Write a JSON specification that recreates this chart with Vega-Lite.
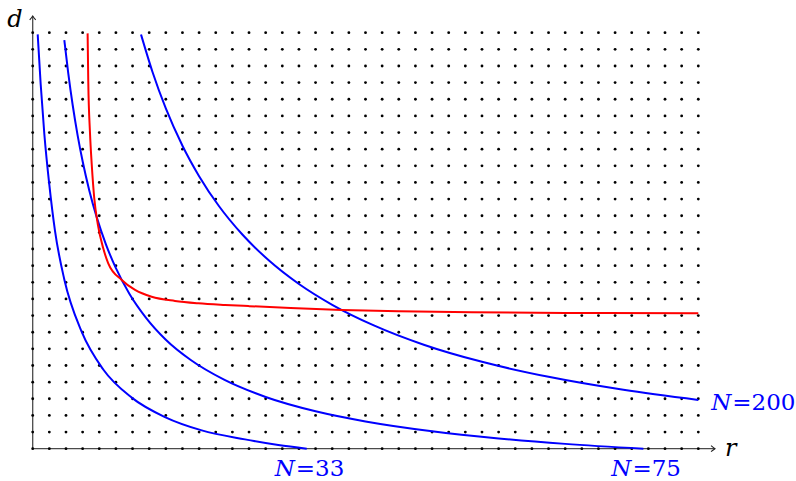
{
"$schema": "https://vega.github.io/schema/vega-lite/v6.json",
"width": 682.24,
"height": 432.64,
"autosize": {"type": "none"},
"padding": {"left": 32.7, "top": 16.06, "right": 81.06, "bottom": 32.3},
"background": "white",
"config": {"view": {"stroke": null}, "text": {"font": "DejaVu Serif"}},
"datasets": {
"dots": [
{"x":0,"y":0},{"x":1,"y":0},{"x":2,"y":0},{"x":3,"y":0},{"x":4,"y":0},{"x":5,"y":0},{"x":6,"y":0},{"x":7,"y":0},{"x":8,"y":0},{"x":9,"y":0},{"x":10,"y":0},{"x":11,"y":0},{"x":12,"y":0},{"x":13,"y":0},{"x":14,"y":0},{"x":15,"y":0},{"x":16,"y":0},{"x":17,"y":0},{"x":18,"y":0},{"x":19,"y":0},{"x":20,"y":0},{"x":21,"y":0},{"x":22,"y":0},{"x":23,"y":0},{"x":24,"y":0},{"x":25,"y":0},{"x":26,"y":0},{"x":27,"y":0},{"x":28,"y":0},{"x":29,"y":0},{"x":30,"y":0},{"x":31,"y":0},{"x":32,"y":0},{"x":33,"y":0},{"x":34,"y":0},{"x":35,"y":0},{"x":36,"y":0},{"x":37,"y":0},{"x":38,"y":0},{"x":39,"y":0},{"x":40,"y":0},
{"x":0,"y":1},{"x":1,"y":1},{"x":2,"y":1},{"x":3,"y":1},{"x":4,"y":1},{"x":5,"y":1},{"x":6,"y":1},{"x":7,"y":1},{"x":8,"y":1},{"x":9,"y":1},{"x":10,"y":1},{"x":11,"y":1},{"x":12,"y":1},{"x":13,"y":1},{"x":14,"y":1},{"x":15,"y":1},{"x":16,"y":1},{"x":17,"y":1},{"x":18,"y":1},{"x":19,"y":1},{"x":20,"y":1},{"x":21,"y":1},{"x":22,"y":1},{"x":23,"y":1},{"x":24,"y":1},{"x":25,"y":1},{"x":26,"y":1},{"x":27,"y":1},{"x":28,"y":1},{"x":29,"y":1},{"x":30,"y":1},{"x":31,"y":1},{"x":32,"y":1},{"x":33,"y":1},{"x":34,"y":1},{"x":35,"y":1},{"x":36,"y":1},{"x":37,"y":1},{"x":38,"y":1},{"x":39,"y":1},{"x":40,"y":1},
{"x":0,"y":2},{"x":1,"y":2},{"x":2,"y":2},{"x":3,"y":2},{"x":4,"y":2},{"x":5,"y":2},{"x":6,"y":2},{"x":7,"y":2},{"x":8,"y":2},{"x":9,"y":2},{"x":10,"y":2},{"x":11,"y":2},{"x":12,"y":2},{"x":13,"y":2},{"x":14,"y":2},{"x":15,"y":2},{"x":16,"y":2},{"x":17,"y":2},{"x":18,"y":2},{"x":19,"y":2},{"x":20,"y":2},{"x":21,"y":2},{"x":22,"y":2},{"x":23,"y":2},{"x":24,"y":2},{"x":25,"y":2},{"x":26,"y":2},{"x":27,"y":2},{"x":28,"y":2},{"x":29,"y":2},{"x":30,"y":2},{"x":31,"y":2},{"x":32,"y":2},{"x":33,"y":2},{"x":34,"y":2},{"x":35,"y":2},{"x":36,"y":2},{"x":37,"y":2},{"x":38,"y":2},{"x":39,"y":2},{"x":40,"y":2},
{"x":0,"y":3},{"x":1,"y":3},{"x":2,"y":3},{"x":3,"y":3},{"x":4,"y":3},{"x":5,"y":3},{"x":6,"y":3},{"x":7,"y":3},{"x":8,"y":3},{"x":9,"y":3},{"x":10,"y":3},{"x":11,"y":3},{"x":12,"y":3},{"x":13,"y":3},{"x":14,"y":3},{"x":15,"y":3},{"x":16,"y":3},{"x":17,"y":3},{"x":18,"y":3},{"x":19,"y":3},{"x":20,"y":3},{"x":21,"y":3},{"x":22,"y":3},{"x":23,"y":3},{"x":24,"y":3},{"x":25,"y":3},{"x":26,"y":3},{"x":27,"y":3},{"x":28,"y":3},{"x":29,"y":3},{"x":30,"y":3},{"x":31,"y":3},{"x":32,"y":3},{"x":33,"y":3},{"x":34,"y":3},{"x":35,"y":3},{"x":36,"y":3},{"x":37,"y":3},{"x":38,"y":3},{"x":39,"y":3},{"x":40,"y":3},
{"x":0,"y":4},{"x":1,"y":4},{"x":2,"y":4},{"x":3,"y":4},{"x":4,"y":4},{"x":5,"y":4},{"x":6,"y":4},{"x":7,"y":4},{"x":8,"y":4},{"x":9,"y":4},{"x":10,"y":4},{"x":11,"y":4},{"x":12,"y":4},{"x":13,"y":4},{"x":14,"y":4},{"x":15,"y":4},{"x":16,"y":4},{"x":17,"y":4},{"x":18,"y":4},{"x":19,"y":4},{"x":20,"y":4},{"x":21,"y":4},{"x":22,"y":4},{"x":23,"y":4},{"x":24,"y":4},{"x":25,"y":4},{"x":26,"y":4},{"x":27,"y":4},{"x":28,"y":4},{"x":29,"y":4},{"x":30,"y":4},{"x":31,"y":4},{"x":32,"y":4},{"x":33,"y":4},{"x":34,"y":4},{"x":35,"y":4},{"x":36,"y":4},{"x":37,"y":4},{"x":38,"y":4},{"x":39,"y":4},{"x":40,"y":4},
{"x":0,"y":5},{"x":1,"y":5},{"x":2,"y":5},{"x":3,"y":5},{"x":4,"y":5},{"x":5,"y":5},{"x":6,"y":5},{"x":7,"y":5},{"x":8,"y":5},{"x":9,"y":5},{"x":10,"y":5},{"x":11,"y":5},{"x":12,"y":5},{"x":13,"y":5},{"x":14,"y":5},{"x":15,"y":5},{"x":16,"y":5},{"x":17,"y":5},{"x":18,"y":5},{"x":19,"y":5},{"x":20,"y":5},{"x":21,"y":5},{"x":22,"y":5},{"x":23,"y":5},{"x":24,"y":5},{"x":25,"y":5},{"x":26,"y":5},{"x":27,"y":5},{"x":28,"y":5},{"x":29,"y":5},{"x":30,"y":5},{"x":31,"y":5},{"x":32,"y":5},{"x":33,"y":5},{"x":34,"y":5},{"x":35,"y":5},{"x":36,"y":5},{"x":37,"y":5},{"x":38,"y":5},{"x":39,"y":5},{"x":40,"y":5},
{"x":0,"y":6},{"x":1,"y":6},{"x":2,"y":6},{"x":3,"y":6},{"x":4,"y":6},{"x":5,"y":6},{"x":6,"y":6},{"x":7,"y":6},{"x":8,"y":6},{"x":9,"y":6},{"x":10,"y":6},{"x":11,"y":6},{"x":12,"y":6},{"x":13,"y":6},{"x":14,"y":6},{"x":15,"y":6},{"x":16,"y":6},{"x":17,"y":6},{"x":18,"y":6},{"x":19,"y":6},{"x":20,"y":6},{"x":21,"y":6},{"x":22,"y":6},{"x":23,"y":6},{"x":24,"y":6},{"x":25,"y":6},{"x":26,"y":6},{"x":27,"y":6},{"x":28,"y":6},{"x":29,"y":6},{"x":30,"y":6},{"x":31,"y":6},{"x":32,"y":6},{"x":33,"y":6},{"x":34,"y":6},{"x":35,"y":6},{"x":36,"y":6},{"x":37,"y":6},{"x":38,"y":6},{"x":39,"y":6},{"x":40,"y":6},
{"x":0,"y":7},{"x":1,"y":7},{"x":2,"y":7},{"x":3,"y":7},{"x":4,"y":7},{"x":5,"y":7},{"x":6,"y":7},{"x":7,"y":7},{"x":8,"y":7},{"x":9,"y":7},{"x":10,"y":7},{"x":11,"y":7},{"x":12,"y":7},{"x":13,"y":7},{"x":14,"y":7},{"x":15,"y":7},{"x":16,"y":7},{"x":17,"y":7},{"x":18,"y":7},{"x":19,"y":7},{"x":20,"y":7},{"x":21,"y":7},{"x":22,"y":7},{"x":23,"y":7},{"x":24,"y":7},{"x":25,"y":7},{"x":26,"y":7},{"x":27,"y":7},{"x":28,"y":7},{"x":29,"y":7},{"x":30,"y":7},{"x":31,"y":7},{"x":32,"y":7},{"x":33,"y":7},{"x":34,"y":7},{"x":35,"y":7},{"x":36,"y":7},{"x":37,"y":7},{"x":38,"y":7},{"x":39,"y":7},{"x":40,"y":7},
{"x":0,"y":8},{"x":1,"y":8},{"x":2,"y":8},{"x":3,"y":8},{"x":4,"y":8},{"x":5,"y":8},{"x":6,"y":8},{"x":7,"y":8},{"x":8,"y":8},{"x":9,"y":8},{"x":10,"y":8},{"x":11,"y":8},{"x":12,"y":8},{"x":13,"y":8},{"x":14,"y":8},{"x":15,"y":8},{"x":16,"y":8},{"x":17,"y":8},{"x":18,"y":8},{"x":19,"y":8},{"x":20,"y":8},{"x":21,"y":8},{"x":22,"y":8},{"x":23,"y":8},{"x":24,"y":8},{"x":25,"y":8},{"x":26,"y":8},{"x":27,"y":8},{"x":28,"y":8},{"x":29,"y":8},{"x":30,"y":8},{"x":31,"y":8},{"x":32,"y":8},{"x":33,"y":8},{"x":34,"y":8},{"x":35,"y":8},{"x":36,"y":8},{"x":37,"y":8},{"x":38,"y":8},{"x":39,"y":8},{"x":40,"y":8},
{"x":0,"y":9},{"x":1,"y":9},{"x":2,"y":9},{"x":3,"y":9},{"x":4,"y":9},{"x":5,"y":9},{"x":6,"y":9},{"x":7,"y":9},{"x":8,"y":9},{"x":9,"y":9},{"x":10,"y":9},{"x":11,"y":9},{"x":12,"y":9},{"x":13,"y":9},{"x":14,"y":9},{"x":15,"y":9},{"x":16,"y":9},{"x":17,"y":9},{"x":18,"y":9},{"x":19,"y":9},{"x":20,"y":9},{"x":21,"y":9},{"x":22,"y":9},{"x":23,"y":9},{"x":24,"y":9},{"x":25,"y":9},{"x":26,"y":9},{"x":27,"y":9},{"x":28,"y":9},{"x":29,"y":9},{"x":30,"y":9},{"x":31,"y":9},{"x":32,"y":9},{"x":33,"y":9},{"x":34,"y":9},{"x":35,"y":9},{"x":36,"y":9},{"x":37,"y":9},{"x":38,"y":9},{"x":39,"y":9},{"x":40,"y":9},
{"x":0,"y":10},{"x":1,"y":10},{"x":2,"y":10},{"x":3,"y":10},{"x":4,"y":10},{"x":5,"y":10},{"x":6,"y":10},{"x":7,"y":10},{"x":8,"y":10},{"x":9,"y":10},{"x":10,"y":10},{"x":11,"y":10},{"x":12,"y":10},{"x":13,"y":10},{"x":14,"y":10},{"x":15,"y":10},{"x":16,"y":10},{"x":17,"y":10},{"x":18,"y":10},{"x":19,"y":10},{"x":20,"y":10},{"x":21,"y":10},{"x":22,"y":10},{"x":23,"y":10},{"x":24,"y":10},{"x":25,"y":10},{"x":26,"y":10},{"x":27,"y":10},{"x":28,"y":10},{"x":29,"y":10},{"x":30,"y":10},{"x":31,"y":10},{"x":32,"y":10},{"x":33,"y":10},{"x":34,"y":10},{"x":35,"y":10},{"x":36,"y":10},{"x":37,"y":10},{"x":38,"y":10},{"x":39,"y":10},{"x":40,"y":10},
{"x":0,"y":11},{"x":1,"y":11},{"x":2,"y":11},{"x":3,"y":11},{"x":4,"y":11},{"x":5,"y":11},{"x":6,"y":11},{"x":7,"y":11},{"x":8,"y":11},{"x":9,"y":11},{"x":10,"y":11},{"x":11,"y":11},{"x":12,"y":11},{"x":13,"y":11},{"x":14,"y":11},{"x":15,"y":11},{"x":16,"y":11},{"x":17,"y":11},{"x":18,"y":11},{"x":19,"y":11},{"x":20,"y":11},{"x":21,"y":11},{"x":22,"y":11},{"x":23,"y":11},{"x":24,"y":11},{"x":25,"y":11},{"x":26,"y":11},{"x":27,"y":11},{"x":28,"y":11},{"x":29,"y":11},{"x":30,"y":11},{"x":31,"y":11},{"x":32,"y":11},{"x":33,"y":11},{"x":34,"y":11},{"x":35,"y":11},{"x":36,"y":11},{"x":37,"y":11},{"x":38,"y":11},{"x":39,"y":11},{"x":40,"y":11},
{"x":0,"y":12},{"x":1,"y":12},{"x":2,"y":12},{"x":3,"y":12},{"x":4,"y":12},{"x":5,"y":12},{"x":6,"y":12},{"x":7,"y":12},{"x":8,"y":12},{"x":9,"y":12},{"x":10,"y":12},{"x":11,"y":12},{"x":12,"y":12},{"x":13,"y":12},{"x":14,"y":12},{"x":15,"y":12},{"x":16,"y":12},{"x":17,"y":12},{"x":18,"y":12},{"x":19,"y":12},{"x":20,"y":12},{"x":21,"y":12},{"x":22,"y":12},{"x":23,"y":12},{"x":24,"y":12},{"x":25,"y":12},{"x":26,"y":12},{"x":27,"y":12},{"x":28,"y":12},{"x":29,"y":12},{"x":30,"y":12},{"x":31,"y":12},{"x":32,"y":12},{"x":33,"y":12},{"x":34,"y":12},{"x":35,"y":12},{"x":36,"y":12},{"x":37,"y":12},{"x":38,"y":12},{"x":39,"y":12},{"x":40,"y":12},
{"x":0,"y":13},{"x":1,"y":13},{"x":2,"y":13},{"x":3,"y":13},{"x":4,"y":13},{"x":5,"y":13},{"x":6,"y":13},{"x":7,"y":13},{"x":8,"y":13},{"x":9,"y":13},{"x":10,"y":13},{"x":11,"y":13},{"x":12,"y":13},{"x":13,"y":13},{"x":14,"y":13},{"x":15,"y":13},{"x":16,"y":13},{"x":17,"y":13},{"x":18,"y":13},{"x":19,"y":13},{"x":20,"y":13},{"x":21,"y":13},{"x":22,"y":13},{"x":23,"y":13},{"x":24,"y":13},{"x":25,"y":13},{"x":26,"y":13},{"x":27,"y":13},{"x":28,"y":13},{"x":29,"y":13},{"x":30,"y":13},{"x":31,"y":13},{"x":32,"y":13},{"x":33,"y":13},{"x":34,"y":13},{"x":35,"y":13},{"x":36,"y":13},{"x":37,"y":13},{"x":38,"y":13},{"x":39,"y":13},{"x":40,"y":13},
{"x":0,"y":14},{"x":1,"y":14},{"x":2,"y":14},{"x":3,"y":14},{"x":4,"y":14},{"x":5,"y":14},{"x":6,"y":14},{"x":7,"y":14},{"x":8,"y":14},{"x":9,"y":14},{"x":10,"y":14},{"x":11,"y":14},{"x":12,"y":14},{"x":13,"y":14},{"x":14,"y":14},{"x":15,"y":14},{"x":16,"y":14},{"x":17,"y":14},{"x":18,"y":14},{"x":19,"y":14},{"x":20,"y":14},{"x":21,"y":14},{"x":22,"y":14},{"x":23,"y":14},{"x":24,"y":14},{"x":25,"y":14},{"x":26,"y":14},{"x":27,"y":14},{"x":28,"y":14},{"x":29,"y":14},{"x":30,"y":14},{"x":31,"y":14},{"x":32,"y":14},{"x":33,"y":14},{"x":34,"y":14},{"x":35,"y":14},{"x":36,"y":14},{"x":37,"y":14},{"x":38,"y":14},{"x":39,"y":14},{"x":40,"y":14},
{"x":0,"y":15},{"x":1,"y":15},{"x":2,"y":15},{"x":3,"y":15},{"x":4,"y":15},{"x":5,"y":15},{"x":6,"y":15},{"x":7,"y":15},{"x":8,"y":15},{"x":9,"y":15},{"x":10,"y":15},{"x":11,"y":15},{"x":12,"y":15},{"x":13,"y":15},{"x":14,"y":15},{"x":15,"y":15},{"x":16,"y":15},{"x":17,"y":15},{"x":18,"y":15},{"x":19,"y":15},{"x":20,"y":15},{"x":21,"y":15},{"x":22,"y":15},{"x":23,"y":15},{"x":24,"y":15},{"x":25,"y":15},{"x":26,"y":15},{"x":27,"y":15},{"x":28,"y":15},{"x":29,"y":15},{"x":30,"y":15},{"x":31,"y":15},{"x":32,"y":15},{"x":33,"y":15},{"x":34,"y":15},{"x":35,"y":15},{"x":36,"y":15},{"x":37,"y":15},{"x":38,"y":15},{"x":39,"y":15},{"x":40,"y":15},
{"x":0,"y":16},{"x":1,"y":16},{"x":2,"y":16},{"x":3,"y":16},{"x":4,"y":16},{"x":5,"y":16},{"x":6,"y":16},{"x":7,"y":16},{"x":8,"y":16},{"x":9,"y":16},{"x":10,"y":16},{"x":11,"y":16},{"x":12,"y":16},{"x":13,"y":16},{"x":14,"y":16},{"x":15,"y":16},{"x":16,"y":16},{"x":17,"y":16},{"x":18,"y":16},{"x":19,"y":16},{"x":20,"y":16},{"x":21,"y":16},{"x":22,"y":16},{"x":23,"y":16},{"x":24,"y":16},{"x":25,"y":16},{"x":26,"y":16},{"x":27,"y":16},{"x":28,"y":16},{"x":29,"y":16},{"x":30,"y":16},{"x":31,"y":16},{"x":32,"y":16},{"x":33,"y":16},{"x":34,"y":16},{"x":35,"y":16},{"x":36,"y":16},{"x":37,"y":16},{"x":38,"y":16},{"x":39,"y":16},{"x":40,"y":16},
{"x":0,"y":17},{"x":1,"y":17},{"x":2,"y":17},{"x":3,"y":17},{"x":4,"y":17},{"x":5,"y":17},{"x":6,"y":17},{"x":7,"y":17},{"x":8,"y":17},{"x":9,"y":17},{"x":10,"y":17},{"x":11,"y":17},{"x":12,"y":17},{"x":13,"y":17},{"x":14,"y":17},{"x":15,"y":17},{"x":16,"y":17},{"x":17,"y":17},{"x":18,"y":17},{"x":19,"y":17},{"x":20,"y":17},{"x":21,"y":17},{"x":22,"y":17},{"x":23,"y":17},{"x":24,"y":17},{"x":25,"y":17},{"x":26,"y":17},{"x":27,"y":17},{"x":28,"y":17},{"x":29,"y":17},{"x":30,"y":17},{"x":31,"y":17},{"x":32,"y":17},{"x":33,"y":17},{"x":34,"y":17},{"x":35,"y":17},{"x":36,"y":17},{"x":37,"y":17},{"x":38,"y":17},{"x":39,"y":17},{"x":40,"y":17},
{"x":0,"y":18},{"x":1,"y":18},{"x":2,"y":18},{"x":3,"y":18},{"x":4,"y":18},{"x":5,"y":18},{"x":6,"y":18},{"x":7,"y":18},{"x":8,"y":18},{"x":9,"y":18},{"x":10,"y":18},{"x":11,"y":18},{"x":12,"y":18},{"x":13,"y":18},{"x":14,"y":18},{"x":15,"y":18},{"x":16,"y":18},{"x":17,"y":18},{"x":18,"y":18},{"x":19,"y":18},{"x":20,"y":18},{"x":21,"y":18},{"x":22,"y":18},{"x":23,"y":18},{"x":24,"y":18},{"x":25,"y":18},{"x":26,"y":18},{"x":27,"y":18},{"x":28,"y":18},{"x":29,"y":18},{"x":30,"y":18},{"x":31,"y":18},{"x":32,"y":18},{"x":33,"y":18},{"x":34,"y":18},{"x":35,"y":18},{"x":36,"y":18},{"x":37,"y":18},{"x":38,"y":18},{"x":39,"y":18},{"x":40,"y":18},
{"x":0,"y":19},{"x":1,"y":19},{"x":2,"y":19},{"x":3,"y":19},{"x":4,"y":19},{"x":5,"y":19},{"x":6,"y":19},{"x":7,"y":19},{"x":8,"y":19},{"x":9,"y":19},{"x":10,"y":19},{"x":11,"y":19},{"x":12,"y":19},{"x":13,"y":19},{"x":14,"y":19},{"x":15,"y":19},{"x":16,"y":19},{"x":17,"y":19},{"x":18,"y":19},{"x":19,"y":19},{"x":20,"y":19},{"x":21,"y":19},{"x":22,"y":19},{"x":23,"y":19},{"x":24,"y":19},{"x":25,"y":19},{"x":26,"y":19},{"x":27,"y":19},{"x":28,"y":19},{"x":29,"y":19},{"x":30,"y":19},{"x":31,"y":19},{"x":32,"y":19},{"x":33,"y":19},{"x":34,"y":19},{"x":35,"y":19},{"x":36,"y":19},{"x":37,"y":19},{"x":38,"y":19},{"x":39,"y":19},{"x":40,"y":19},
{"x":0,"y":20},{"x":1,"y":20},{"x":2,"y":20},{"x":3,"y":20},{"x":4,"y":20},{"x":5,"y":20},{"x":6,"y":20},{"x":7,"y":20},{"x":8,"y":20},{"x":9,"y":20},{"x":10,"y":20},{"x":11,"y":20},{"x":12,"y":20},{"x":13,"y":20},{"x":14,"y":20},{"x":15,"y":20},{"x":16,"y":20},{"x":17,"y":20},{"x":18,"y":20},{"x":19,"y":20},{"x":20,"y":20},{"x":21,"y":20},{"x":22,"y":20},{"x":23,"y":20},{"x":24,"y":20},{"x":25,"y":20},{"x":26,"y":20},{"x":27,"y":20},{"x":28,"y":20},{"x":29,"y":20},{"x":30,"y":20},{"x":31,"y":20},{"x":32,"y":20},{"x":33,"y":20},{"x":34,"y":20},{"x":35,"y":20},{"x":36,"y":20},{"x":37,"y":20},{"x":38,"y":20},{"x":39,"y":20},{"x":40,"y":20},
{"x":0,"y":21},{"x":1,"y":21},{"x":2,"y":21},{"x":3,"y":21},{"x":4,"y":21},{"x":5,"y":21},{"x":6,"y":21},{"x":7,"y":21},{"x":8,"y":21},{"x":9,"y":21},{"x":10,"y":21},{"x":11,"y":21},{"x":12,"y":21},{"x":13,"y":21},{"x":14,"y":21},{"x":15,"y":21},{"x":16,"y":21},{"x":17,"y":21},{"x":18,"y":21},{"x":19,"y":21},{"x":20,"y":21},{"x":21,"y":21},{"x":22,"y":21},{"x":23,"y":21},{"x":24,"y":21},{"x":25,"y":21},{"x":26,"y":21},{"x":27,"y":21},{"x":28,"y":21},{"x":29,"y":21},{"x":30,"y":21},{"x":31,"y":21},{"x":32,"y":21},{"x":33,"y":21},{"x":34,"y":21},{"x":35,"y":21},{"x":36,"y":21},{"x":37,"y":21},{"x":38,"y":21},{"x":39,"y":21},{"x":40,"y":21},
{"x":0,"y":22},{"x":1,"y":22},{"x":2,"y":22},{"x":3,"y":22},{"x":4,"y":22},{"x":5,"y":22},{"x":6,"y":22},{"x":7,"y":22},{"x":8,"y":22},{"x":9,"y":22},{"x":10,"y":22},{"x":11,"y":22},{"x":12,"y":22},{"x":13,"y":22},{"x":14,"y":22},{"x":15,"y":22},{"x":16,"y":22},{"x":17,"y":22},{"x":18,"y":22},{"x":19,"y":22},{"x":20,"y":22},{"x":21,"y":22},{"x":22,"y":22},{"x":23,"y":22},{"x":24,"y":22},{"x":25,"y":22},{"x":26,"y":22},{"x":27,"y":22},{"x":28,"y":22},{"x":29,"y":22},{"x":30,"y":22},{"x":31,"y":22},{"x":32,"y":22},{"x":33,"y":22},{"x":34,"y":22},{"x":35,"y":22},{"x":36,"y":22},{"x":37,"y":22},{"x":38,"y":22},{"x":39,"y":22},{"x":40,"y":22},
{"x":0,"y":23},{"x":1,"y":23},{"x":2,"y":23},{"x":3,"y":23},{"x":4,"y":23},{"x":5,"y":23},{"x":6,"y":23},{"x":7,"y":23},{"x":8,"y":23},{"x":9,"y":23},{"x":10,"y":23},{"x":11,"y":23},{"x":12,"y":23},{"x":13,"y":23},{"x":14,"y":23},{"x":15,"y":23},{"x":16,"y":23},{"x":17,"y":23},{"x":18,"y":23},{"x":19,"y":23},{"x":20,"y":23},{"x":21,"y":23},{"x":22,"y":23},{"x":23,"y":23},{"x":24,"y":23},{"x":25,"y":23},{"x":26,"y":23},{"x":27,"y":23},{"x":28,"y":23},{"x":29,"y":23},{"x":30,"y":23},{"x":31,"y":23},{"x":32,"y":23},{"x":33,"y":23},{"x":34,"y":23},{"x":35,"y":23},{"x":36,"y":23},{"x":37,"y":23},{"x":38,"y":23},{"x":39,"y":23},{"x":40,"y":23},
{"x":0,"y":24},{"x":1,"y":24},{"x":2,"y":24},{"x":3,"y":24},{"x":4,"y":24},{"x":5,"y":24},{"x":6,"y":24},{"x":7,"y":24},{"x":8,"y":24},{"x":9,"y":24},{"x":10,"y":24},{"x":11,"y":24},{"x":12,"y":24},{"x":13,"y":24},{"x":14,"y":24},{"x":15,"y":24},{"x":16,"y":24},{"x":17,"y":24},{"x":18,"y":24},{"x":19,"y":24},{"x":20,"y":24},{"x":21,"y":24},{"x":22,"y":24},{"x":23,"y":24},{"x":24,"y":24},{"x":25,"y":24},{"x":26,"y":24},{"x":27,"y":24},{"x":28,"y":24},{"x":29,"y":24},{"x":30,"y":24},{"x":31,"y":24},{"x":32,"y":24},{"x":33,"y":24},{"x":34,"y":24},{"x":35,"y":24},{"x":36,"y":24},{"x":37,"y":24},{"x":38,"y":24},{"x":39,"y":24},{"x":40,"y":24},
{"x":0,"y":25},{"x":1,"y":25},{"x":2,"y":25},{"x":3,"y":25},{"x":4,"y":25},{"x":5,"y":25},{"x":6,"y":25},{"x":7,"y":25},{"x":8,"y":25},{"x":9,"y":25},{"x":10,"y":25},{"x":11,"y":25},{"x":12,"y":25},{"x":13,"y":25},{"x":14,"y":25},{"x":15,"y":25},{"x":16,"y":25},{"x":17,"y":25},{"x":18,"y":25},{"x":19,"y":25},{"x":20,"y":25},{"x":21,"y":25},{"x":22,"y":25},{"x":23,"y":25},{"x":24,"y":25},{"x":25,"y":25},{"x":26,"y":25},{"x":27,"y":25},{"x":28,"y":25},{"x":29,"y":25},{"x":30,"y":25},{"x":31,"y":25},{"x":32,"y":25},{"x":33,"y":25},{"x":34,"y":25},{"x":35,"y":25},{"x":36,"y":25},{"x":37,"y":25},{"x":38,"y":25},{"x":39,"y":25},{"x":40,"y":25}
],
"curves": [
{"s":"N33","x":0.30,"y":24.9},{"s":"N33","x":0.48,"y":21.9},{"s":"N33","x":0.70,"y":18.9},{"s":"N33","x":1.0,"y":15.85},{"s":"N33","x":1.34,"y":13.09},{"s":"N33","x":1.90,"y":10.17},{"s":"N33","x":2.94,"y":7.03},{"s":"N33","x":4.24,"y":4.76},{"s":"N33","x":5.95,"y":3.07},{"s":"N33","x":7.95,"y":1.9},{"s":"N33","x":10.16,"y":1.1},{"s":"N33","x":12.76,"y":0.56},{"s":"N33","x":14.76,"y":0.22},{"s":"N33","x":16.47,"y":0},
{"s":"N75","x":1.90,"y":24.56},{"s":"N75","x":2.14,"y":22.54},{"s":"N75","x":2.4,"y":20.67},{"s":"N75","x":2.7,"y":18.83},{"s":"N75","x":3.0,"y":17.27},{"s":"N75","x":3.4,"y":15.52},{"s":"N75","x":3.85,"y":13.9},{"s":"N75","x":4.4,"y":12.28},{"s":"N75","x":5.0,"y":10.85},{"s":"N75","x":5.8,"y":9.33},{"s":"N75","x":6.8,"y":7.88},{"s":"N75","x":8.0,"y":6.55},{"s":"N75","x":9.5,"y":5.33},{"s":"N75","x":11.5,"y":4.15},{"s":"N75","x":14.0,"y":3.11},{"s":"N75","x":17.0,"y":2.25},{"s":"N75","x":20.0,"y":1.64},{"s":"N75","x":24.0,"y":1.05},{"s":"N75","x":28.0,"y":0.62},{"s":"N75","x":32.0,"y":0.29},{"s":"N75","x":36.7,"y":0},
{"s":"N200","x":6.51,"y":24.89},{"s":"N200","x":7.2,"y":22.64},{"s":"N200","x":8.0,"y":20.45},{"s":"N200","x":9.0,"y":18.21},{"s":"N200","x":10.0,"y":16.38},{"s":"N200","x":11.2,"y":14.57},{"s":"N200","x":12.6,"y":12.87},{"s":"N200","x":14.2,"y":11.31},{"s":"N200","x":16.0,"y":9.9},{"s":"N200","x":18.0,"y":8.65},{"s":"N200","x":20.5,"y":7.41},{"s":"N200","x":23.5,"y":6.25},{"s":"N200","x":27.0,"y":5.22},{"s":"N200","x":31.0,"y":4.32},{"s":"N200","x":35.5,"y":3.54},{"s":"N200","x":40.0,"y":2.93},
{"s":"red","x":3.30,"y":24.96},{"s":"red","x":3.34,"y":22.05},{"s":"red","x":3.44,"y":19.05},{"s":"red","x":3.55,"y":17.05},{"s":"red","x":3.70,"y":15.05},{"s":"red","x":3.91,"y":13.5},{"s":"red","x":4.24,"y":12.04},{"s":"red","x":4.54,"y":11.14},{"s":"red","x":5.35,"y":10.14},{"s":"red","x":6.15,"y":9.54},{"s":"red","x":7.15,"y":9.13},{"s":"red","x":8.55,"y":8.88},{"s":"red","x":9.95,"y":8.74},{"s":"red","x":11.56,"y":8.64},{"s":"red","x":12.96,"y":8.57},{"s":"red","x":15.5,"y":8.45},{"s":"red","x":18.57,"y":8.34},{"s":"red","x":22.0,"y":8.26},{"s":"red","x":26.4,"y":8.2},{"s":"red","x":32.0,"y":8.16},{"s":"red","x":40.0,"y":8.14}
]
},
"layer": [
{
"data": {"values": [{"x":0,"y":0,"x2":41,"y2":0},{"x":0,"y":0,"x2":0,"y2":26}]},
"mark": {"type": "rule", "stroke": "#4a4a4a", "strokeWidth": 1.3},
"encoding": {
"x": {"field": "x", "type": "quantitative", "scale": {"domain": [0, 41], "nice": false, "zero": false}, "axis": null},
"y": {"field": "y", "type": "quantitative", "scale": {"domain": [0, 26], "nice": false, "zero": false}, "axis": null},
"x2": {"field": "x2"},
"y2": {"field": "y2"}
}
},
{
"data": {"values": [{"x":41,"y":0}]},
"mark": {"type": "point", "shape": "M -1.3 -1 Q -0.5 -0.3 0 0 Q -0.5 0.3 -1.3 1", "filled": false, "stroke": "#222222", "strokeWidth": 1.1, "size": 36, "angle": 0, "opacity": 1},
"encoding": {
"x": {"field": "x", "type": "quantitative"},
"y": {"field": "y", "type": "quantitative"}
}
},
{
"data": {"values": [{"x":0,"y":26}]},
"mark": {"type": "point", "shape": "M -1.3 -1 Q -0.5 -0.3 0 0 Q -0.5 0.3 -1.3 1", "filled": false, "stroke": "#222222", "strokeWidth": 1.1, "size": 36, "angle": 270, "opacity": 1},
"encoding": {
"x": {"field": "x", "type": "quantitative"},
"y": {"field": "y", "type": "quantitative"}
}
},
{
"data": {"name": "dots"},
"mark": {"type": "circle", "size": 8, "color": "#000000", "opacity": 1},
"encoding": {
"x": {"field": "x", "type": "quantitative"},
"y": {"field": "y", "type": "quantitative"}
}
},
{
"data": {"name": "curves"},
"mark": {"type": "line", "strokeWidth": 2, "interpolate": "monotone"},
"encoding": {
"x": {"field": "x", "type": "quantitative"},
"y": {"field": "y", "type": "quantitative"},
"detail": {"field": "s", "type": "nominal"},
"color": {"field": "s", "type": "nominal", "scale": {"domain": ["N33", "N75", "N200", "red"], "range": ["#0000ff", "#0000ff", "#0000ff", "#ff0000"]}, "legend": null}
}
},
{
"data": {"values": [{"x":0,"y":26,"t":"d"}]},
"mark": {"type": "text", "align": "right", "baseline": "alphabetic", "dx": -10, "dy": 11, "font": "DejaVu Serif", "fontStyle": "italic", "fontSize": 24, "color": "#000000"},
"encoding": {"x": {"field": "x", "type": "quantitative"}, "y": {"field": "y", "type": "quantitative"}, "text": {"field": "t"}}
},
{
"data": {"values": [{"x":41,"y":0,"t":"r"}]},
"mark": {"type": "text", "align": "left", "baseline": "alphabetic", "dx": 10, "dy": 7, "font": "DejaVu Serif", "fontStyle": "italic", "fontSize": 24, "color": "#000000"},
"encoding": {"x": {"field": "x", "type": "quantitative"}, "y": {"field": "y", "type": "quantitative"}, "text": {"field": "t"}}
},
{
"data": {"values": [{"x":16.47,"y":0,"t":"N"},{"x":36.7,"y":0,"t":"N"}]},
"mark": {"type": "text", "align": "right", "baseline": "alphabetic", "dx": -12, "dy": 27, "font": "DejaVu Serif", "fontStyle": "italic", "fontSize": 23, "color": "#0000ff"},
"encoding": {"x": {"field": "x", "type": "quantitative"}, "y": {"field": "y", "type": "quantitative"}, "text": {"field": "t"}}
},
{
"data": {"values": [{"x":16.47,"y":0,"t":"=33"},{"x":36.7,"y":0,"t":"=75"}]},
"mark": {"type": "text", "align": "left", "baseline": "alphabetic", "dx": -11, "dy": 27, "font": "DejaVu Serif", "fontSize": 23, "color": "#0000ff"},
"encoding": {"x": {"field": "x", "type": "quantitative"}, "y": {"field": "y", "type": "quantitative"}, "text": {"field": "t"}}
},
{
"data": {"values": [{"x":40,"y":2.93,"t":"N"}]},
"mark": {"type": "text", "align": "right", "baseline": "alphabetic", "dx": 33, "dy": 10, "font": "DejaVu Serif", "fontStyle": "italic", "fontSize": 23, "color": "#0000ff"},
"encoding": {"x": {"field": "x", "type": "quantitative"}, "y": {"field": "y", "type": "quantitative"}, "text": {"field": "t"}}
},
{
"data": {"values": [{"x":40,"y":2.93,"t":"=200"}]},
"mark": {"type": "text", "align": "left", "baseline": "alphabetic", "dx": 34, "dy": 10, "font": "DejaVu Serif", "fontSize": 23, "color": "#0000ff"},
"encoding": {"x": {"field": "x", "type": "quantitative"}, "y": {"field": "y", "type": "quantitative"}, "text": {"field": "t"}}
}
]
}
